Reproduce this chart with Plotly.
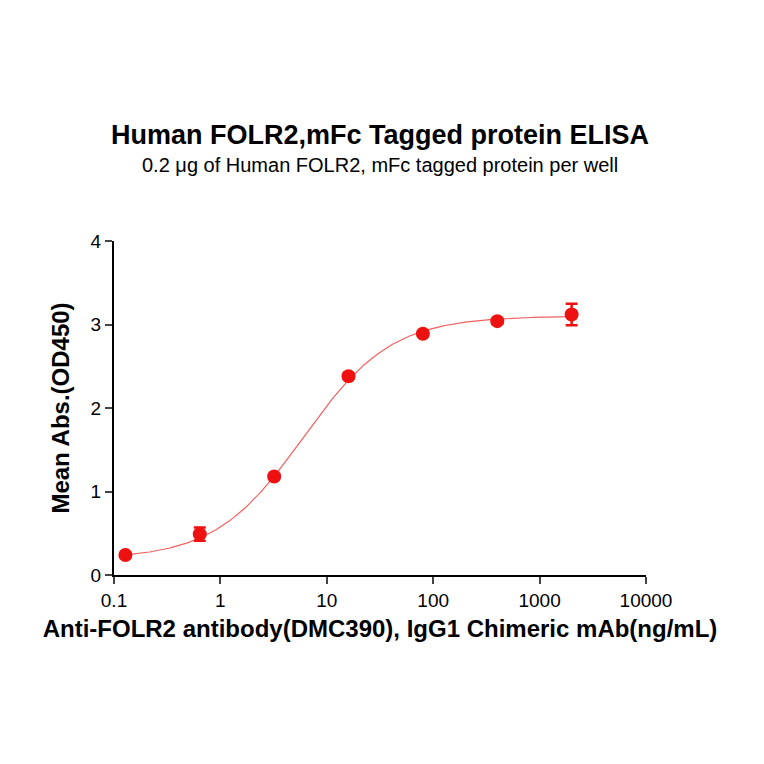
import numpy as np
import plotly.graph_objects as go

conc = [0.128, 0.64, 3.2, 16, 80, 400, 2000]
od = [0.24, 0.49, 1.18, 2.38, 2.89, 3.04, 3.12]
err = [0.02, 0.08, 0.03, 0.03, 0.03, 0.03, 0.13]
# 4PL fit parameters (bottom, top, EC50, hill)
fit = dict(bottom=0.19, top=3.10, ec50=6.0, hill=1.05)

xs = np.logspace(np.log10(conc[0]), np.log10(conc[-1]), 300)
ys = fit["bottom"] + (fit["top"] - fit["bottom"]) / (1 + (fit["ec50"] / xs) ** fit["hill"])

T, B = 233, 197
H = 764 - T - B

fig = go.Figure()
fig.add_trace(go.Scatter(x=xs, y=ys, mode="lines", line=dict(color="#f26060", width=1.2), showlegend=False))
fig.add_trace(go.Scatter(x=conc, y=od, mode="markers",
                         marker=dict(color="#ee1111", size=14),
                         error_y=dict(type="data", array=err, color="#ee1111", thickness=2.5, width=6),
                         showlegend=False))
fig.update_layout(
    width=764, height=764, plot_bgcolor="white", paper_bgcolor="white",
    margin=dict(l=106, r=126, t=T, b=B),
    font=dict(family="Liberation Sans, Arial", color="black"),
    annotations=[
        dict(text="<b>Human FOLR2,mFc Tagged protein ELISA</b>", x=0.5, xref="paper",
             y=(764 - B - 127) / H, yref="paper", yanchor="middle",
             showarrow=False, font=dict(size=27)),
        dict(text="0.2 μg of Human FOLR2, mFc tagged protein per well", x=0.5, xref="paper",
             y=(764 - B - 157) / H, yref="paper", yanchor="middle",
             showarrow=False, font=dict(size=20)),
    ],
)
fig.update_xaxes(type="log", range=[-1, 4], showline=True, linecolor="black", linewidth=2,
                 ticks="outside", ticklen=7, tickwidth=2, showgrid=False, zeroline=False,
                 tickvals=[0.1, 1, 10, 100, 1000, 10000],
                 ticktext=["0.1", "1", "10", "100", "1000", "10000"], tickfont=dict(size=19),
                 title=dict(text="<b>Anti-FOLR2 antibody(DMC390), IgG1 Chimeric mAb(ng/mL)</b>", font=dict(size=24), standoff=10))
fig.update_yaxes(range=[0, 4], showline=True, linecolor="black", linewidth=2,
                 ticks="outside", ticklen=7, tickwidth=2, showgrid=False, zeroline=False,
                 tickvals=[0, 1, 2, 3, 4], tickfont=dict(size=19),
                 title=dict(text="<b>Mean Abs.(OD450)</b>", font=dict(size=24), standoff=14))
fig.write_html("out.html")
